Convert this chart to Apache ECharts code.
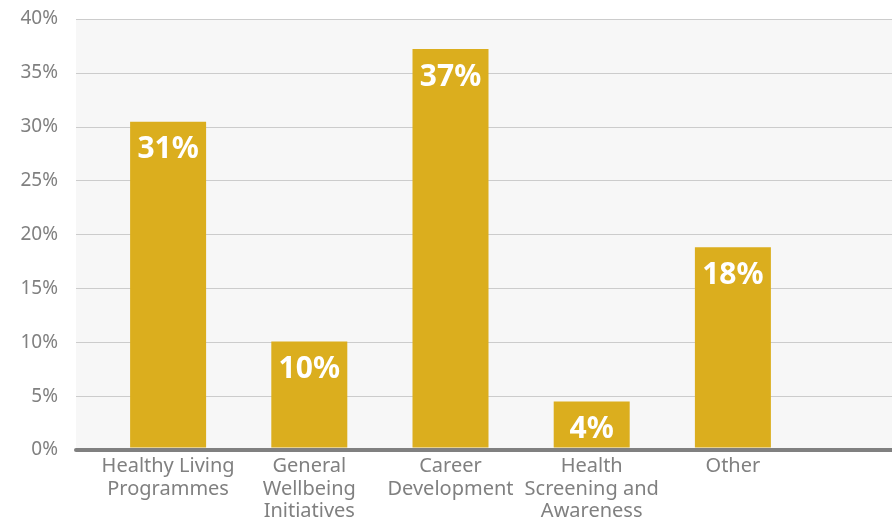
<!DOCTYPE html>
<html><head><meta charset="utf-8">
<script src="https://cdn.jsdelivr.net/npm/echarts@6/dist/echarts.min.js"></script>
<style>html,body{margin:0;padding:0;background:#fff}#c{width:892px;height:523px}</style>
</head><body><div id="c"></div>
<script>
const categories = ["Healthy Living\nProgrammes", "General\nWellbeing\nInitiatives", "Career\nDevelopment", "Health\nScreening and\nAwareness", "Other"];
const values = [30.4, 9.9, 37.2, 4.3, 18.7];
const valueLabels = ["31%", "10%", "37%", "4%", "18%"];
const yTicks = [0, 5, 10, 15, 20, 25, 30, 35, 40];

const chart = echarts.init(document.getElementById('c'));
const font = "'Noto Sans','Open Sans',sans-serif";
chart.setOption({
  animation: false,
  grid: [
    {left: 76, right: 0, top: 19, bottom: 73, show: true, backgroundColor: '#f7f7f7', borderWidth: 0},
    {left: 97.5, width: 706, top: 19, bottom: 73}
  ],
  xAxis: [
    {gridIndex: 0, type: 'category', data: [''], axisLine: {show: true, lineStyle: {color: '#808080', width: 4}},
     axisTick: {show: false}, axisLabel: {show: false}, z: 10},
    {gridIndex: 1, type: 'category', data: categories, axisLine: {show: false}, axisTick: {show: false},
     axisLabel: {color: '#808080', fontSize: 20, fontFamily: font, lineHeight: 22.5, margin: 8, interval: 0}}
  ],
  yAxis: [
    {gridIndex: 0, type: 'value', min: yTicks[0], max: yTicks[yTicks.length-1], interval: 5,
     axisLine: {show: false}, axisTick: {show: false},
     splitLine: {lineStyle: {color: '#cccccc', width: 1}},
     axisLabel: {formatter: v => v + '%', color: '#808080', fontSize: 19, fontFamily: font, margin: 18}},
    {gridIndex: 1, type: 'value', min: 0, max: 40, interval: 5, show: false}
  ],
  series: [{
    type: 'bar', xAxisIndex: 1, yAxisIndex: 1, data: values, barWidth: 76,
    itemStyle: {color: '#dbae1e'},
    label: {show: true, position: 'insideTop', distance: 13, color: '#ffffff', fontSize: 30, fontWeight: 'bold',
      fontFamily: font, formatter: p => valueLabels[p.dataIndex]}
  }]
});
</script></body></html>
